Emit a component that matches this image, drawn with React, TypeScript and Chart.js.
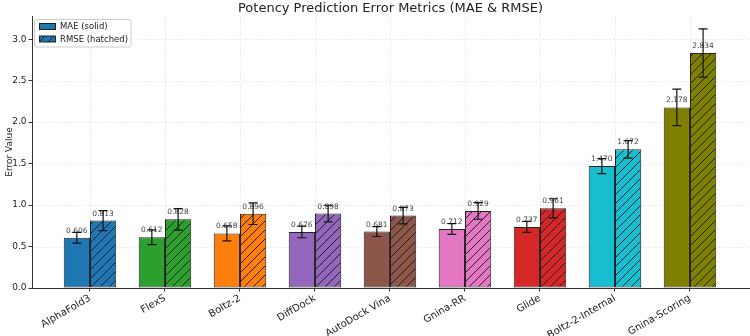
import React, { useEffect, useRef } from 'react';
import { Chart, registerables } from 'chart.js';

Chart.register(...registerables);

const categories = ['AlphaFold3', 'FlexS', 'Boltz-2', 'DiffDock', 'AutoDock Vina', 'Gnina-RR', 'Glide', 'Boltz-2-Internal', 'Gnina-Scoring'];
const maeValues = [0.606, 0.612, 0.658, 0.676, 0.681, 0.712, 0.737, 1.47, 2.178];
const rmseValues = [0.813, 0.828, 0.896, 0.898, 0.873, 0.929, 0.961, 1.672, 2.834];
const maeErrors = [0.065, 0.09, 0.09, 0.07, 0.06, 0.065, 0.066, 0.09, 0.22];
const rmseErrors = [0.12, 0.13, 0.13, 0.1, 0.1, 0.1, 0.115, 0.105, 0.29];
const colors = ['#1f77b4', '#2ca02c', '#ff7f0e', '#9467bd', '#8c564b', '#e377c2', '#d62728', '#17becf', '#808000'];
const yTicks = [0, 0.5, 1.0, 1.5, 2.0, 2.5, 3.0];
const titleText = 'Potency Prediction Error Metrics (MAE & RMSE)';
const yTitle = 'Error Value';
const legendLabels = ['MAE (solid)', 'RMSE (hatched)'];

const FONT = '"DejaVu Sans", sans-serif';

function makeHatch(color: string): CanvasPattern | string {
  const s = 9;
  const c = document.createElement('canvas');
  c.width = s;
  c.height = s;
  const g = c.getContext('2d');
  if (!g) return color;
  g.fillStyle = color;
  g.fillRect(0, 0, s, s);
  g.strokeStyle = 'rgba(20,20,20,0.9)';
  g.lineWidth = 1;
  g.beginPath();
  g.moveTo(-1, s + 1);
  g.lineTo(s + 1, -1);
  g.moveTo(-1, 1);
  g.lineTo(1, -1);
  g.moveTo(s - 1, s + 1);
  g.lineTo(s + 1, s - 1);
  g.stroke();
  const p = g.createPattern(c, 'repeat');
  return p || color;
}

export default function App() {
  const ref = useRef<HTMLCanvasElement>(null);

  useEffect(() => {
    const canvas = ref.current;
    if (!canvas) return;
    const hatches = colors.map(makeHatch);

    const bgPlugin = {
      id: 'bg',
      beforeDraw(chart: any) {
        const ctx = chart.ctx;
        ctx.save();
        ctx.fillStyle = '#ffffff';
        ctx.fillRect(0, 0, chart.width, chart.height);
        ctx.restore();
      },
    };

    const gridPlugin = {
      id: 'dotgrid',
      beforeDatasetsDraw(chart: any) {
        const ctx = chart.ctx;
        const area = chart.chartArea;
        const xs = chart.scales.x;
        const ys = chart.scales.y;
        ctx.save();
        ctx.strokeStyle = 'rgba(0,0,0,0.13)';
        ctx.lineWidth = 0.8;
        ctx.setLineDash([1.5, 2]);
        ctx.beginPath();
        yTicks.forEach((v) => {
          if (v === 0) return;
          const y = Math.round(ys.getPixelForValue(v)) + 0.5;
          ctx.moveTo(area.left, y);
          ctx.lineTo(area.right, y);
        });
        categories.forEach((_, i) => {
          const x = Math.round(xs.getPixelForValue(i)) + 0.5;
          ctx.moveTo(x, area.top);
          ctx.lineTo(x, area.bottom);
        });
        ctx.stroke();
        ctx.restore();
      },
    };

    const annotPlugin = {
      id: 'annot',
      afterDatasetsDraw(chart: any) {
        const ctx = chart.ctx;
        const ys = chart.scales.y;
        const vals = [maeValues, rmseValues];
        const errs = [maeErrors, rmseErrors];
        ctx.save();
        ctx.font = `7.5px ${FONT}`;
        ctx.fillStyle = '#444';
        ctx.textAlign = 'center';
        ctx.textBaseline = 'alphabetic';
        [0, 1].forEach((d) => {
          const meta = chart.getDatasetMeta(d);
          meta.data.forEach((bar: any, i: number) => {
            const y = ys.getPixelForValue(vals[d][i]);
            ctx.fillText(vals[d][i].toFixed(3), bar.x, y - 5);
          });
        });
        ctx.strokeStyle = '#111';
        ctx.lineWidth = 1.2;
        [0, 1].forEach((d) => {
          const meta = chart.getDatasetMeta(d);
          meta.data.forEach((bar: any, i: number) => {
            const yt = ys.getPixelForValue(vals[d][i] + errs[d][i]);
            const yb = ys.getPixelForValue(vals[d][i] - errs[d][i]);
            const x = bar.x;
            ctx.beginPath();
            ctx.moveTo(x, yt);
            ctx.lineTo(x, yb);
            ctx.moveTo(x - 4.5, yt);
            ctx.lineTo(x + 4.5, yt);
            ctx.moveTo(x - 4.5, yb);
            ctx.lineTo(x + 4.5, yb);
            ctx.stroke();
          });
        });
        ctx.restore();
      },
      afterDraw(chart: any) {
        const ctx = chart.ctx;
        const area = chart.chartArea;
        ctx.save();
        ctx.font = `13px ${FONT}`;
        ctx.fillStyle = '#222';
        ctx.textAlign = 'center';
        ctx.textBaseline = 'alphabetic';
        ctx.fillText(titleText, (area.left + area.right) / 2, 12);
        ctx.save();
        ctx.translate(10, (area.top + area.bottom) / 2);
        ctx.rotate(-Math.PI / 2);
        ctx.font = `9px ${FONT}`;
        ctx.textBaseline = 'middle';
        ctx.fillText(yTitle, 0, 0);
        ctx.restore();
        const lx = 34.5, ly = 19.5, lw = 96.5, lh = 27.5, r = 2;
        ctx.beginPath();
        ctx.moveTo(lx + r, ly);
        ctx.lineTo(lx + lw - r, ly);
        ctx.quadraticCurveTo(lx + lw, ly, lx + lw, ly + r);
        ctx.lineTo(lx + lw, ly + lh - r);
        ctx.quadraticCurveTo(lx + lw, ly + lh, lx + lw - r, ly + lh);
        ctx.lineTo(lx + r, ly + lh);
        ctx.quadraticCurveTo(lx, ly + lh, lx, ly + lh - r);
        ctx.lineTo(lx, ly + r);
        ctx.quadraticCurveTo(lx, ly, lx + r, ly);
        ctx.closePath();
        ctx.fillStyle = 'rgba(255,255,255,0.85)';
        ctx.fill();
        ctx.strokeStyle = '#cccccc';
        ctx.lineWidth = 1;
        ctx.stroke();
        const rows = [26.5, 39];
        rows.forEach((cy, k) => {
          ctx.fillStyle = k === 0 ? colors[0] : (hatches[0] as any);
          ctx.fillRect(39.5, cy - 3, 16, 6);
          ctx.strokeStyle = '#222';
          ctx.strokeRect(39.5, cy - 3, 16, 6);
          ctx.fillStyle = '#222';
          ctx.font = `8.5px ${FONT}`;
          ctx.textAlign = 'left';
          ctx.textBaseline = 'middle';
          ctx.fillText(legendLabels[k], 60, cy + 0.5);
        });
        ctx.restore();
      },
    };

    const chart = new Chart(canvas, {
      type: 'bar',
      data: {
        datasets: [
          {
            label: legendLabels[0],
            data: maeValues.map((y, i) => ({ x: i, y })),
            backgroundColor: colors,
            borderColor: '#222',
            borderWidth: 1,
            borderSkipped: false,
            categoryPercentage: 0.7,
            barPercentage: 1,
          },
          {
            label: legendLabels[1],
            data: rmseValues.map((y, i) => ({ x: i, y })),
            backgroundColor: hatches as any,
            borderColor: '#222',
            borderWidth: 1,
            borderSkipped: false,
            categoryPercentage: 0.7,
            barPercentage: 1,
          },
        ],
      } as any,
      options: {
        animation: false,
        responsive: false,
        devicePixelRatio: 1,
        layout: { padding: { top: 16, right: 1, left: 0, bottom: 0 } },
        plugins: { legend: { display: false }, tooltip: { enabled: false }, title: { display: false } },
        scales: {
          x: {
            type: 'linear',
            min: -0.773,
            max: 8.787,
            offset: false,
            grid: { display: true, offset: false, drawOnChartArea: false, drawTicks: true, tickLength: 3.5, tickColor: '#333' },
            border: { display: true, color: '#333', width: 1 },
            afterBuildTicks(scale: any) {
              scale.ticks = categories.map((_, i) => ({ value: i }));
            },
            afterFit(scale: any) {
              scale.height = 48;
            },
            ticks: {
              autoSkip: false,
              minRotation: 30,
              maxRotation: 30,
              padding: 1,
              color: '#222',
              font: { family: FONT, size: 10 },
              callback: (v: any) => categories[v as number] ?? '',
            },
          },
          y: {
            type: 'linear',
            min: 0,
            max: 3.28,
            grid: { display: true, drawOnChartArea: false, drawTicks: true, tickLength: 3.5, tickColor: '#333' },
            border: { display: true, color: '#333', width: 1 },
            afterBuildTicks(scale: any) {
              scale.ticks = yTicks.map((v) => ({ value: v }));
            },
            afterFit(scale: any) {
              scale.width = 32;
            },
            ticks: {
              padding: 2,
              color: '#222',
              font: { family: FONT, size: 9 },
              callback: (v: any) => Number(v).toFixed(1),
            },
          },
        },
      } as any,
      plugins: [bgPlugin, gridPlugin, annotPlugin],
    });
    return () => chart.destroy();
  }, []);

  return (
    <div style={{ position: 'fixed', left: 0, top: 0, width: 750, height: 336, background: '#fff' }}>
      <canvas ref={ref} width={750} height={336} style={{ display: 'block', width: 750, height: 336 }} />
    </div>
  );
}
